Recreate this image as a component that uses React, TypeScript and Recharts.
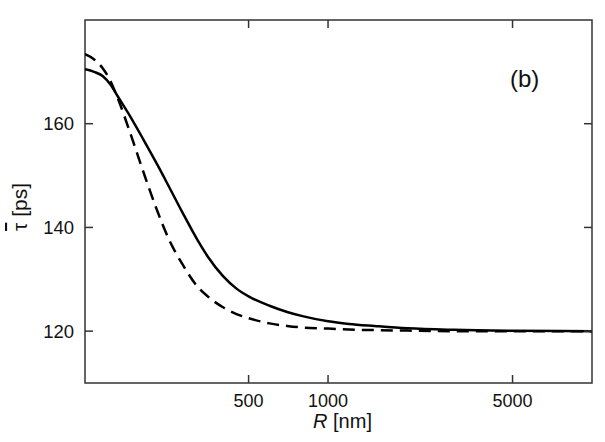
import { LineChart, Line, XAxis, YAxis, ReferenceArea } from 'recharts';

// R [nm] sample points (log axis)
const rValues = [120, 130, 140, 150, 160, 180, 200, 225, 250, 280, 320, 350, 400, 450, 500, 600, 700, 800, 1000, 1200, 1500, 2000, 3000, 5000, 10000];
// solid curve, tau-bar [ps]
const tauSolid = [170.5, 170.0, 169.2, 167.5, 165.2, 161.0, 156.9, 152.2, 147.8, 143.0, 137.6, 134.4, 130.6, 128.2, 126.7, 124.9, 123.7, 122.9, 121.9, 121.4, 121.0, 120.55, 120.25, 120.08, 120.0];
// dashed curve
const tauDashed = [173.4, 172.4, 170.7, 168.2, 164.8, 157.5, 150.6, 143.3, 137.6, 133.0, 128.6, 126.7, 124.6, 123.3, 122.5, 121.5, 121.0, 120.7, 120.5, 120.3, 120.2, 120.1, 120.0, 120.0, 120.0];

const xTicks = [500, 1000, 5000];
const yTicks = [120, 140, 160];
const xDomain = [120, 10000];
const yDomain = [110, 180];

const data = rValues.map((r, i) => ({ r, solid: tauSolid[i], dashed: tauDashed[i] }));

const font = '"Liberation Sans", Arial, sans-serif';
const axisColor = '#333';
const W = 605;
const H = 442;
const margin = { top: 20, right: 13, bottom: 14, left: 25 };
const yAxisWidth = 60;
const xAxisHeight = 45;
const plotLeft = margin.left + yAxisWidth;
const plotTop = margin.top;
const plotRight = W - margin.right;
const plotBottom = H - margin.bottom - xAxisHeight;
const tickLen = 8;

// bottom tick: label plus inward marks on bottom and top edges
function XTick({ x, payload }: any) {
  return (
    <g>
      <line x1={x} x2={x} y1={plotBottom} y2={plotBottom - tickLen} stroke={axisColor} strokeWidth={1.5} />
      <line x1={x} x2={x} y1={plotTop} y2={plotTop + tickLen} stroke={axisColor} strokeWidth={1.5} />
      <text x={x} y={plotBottom + 24} textAnchor="middle" fontSize={18} fontFamily={font} fill="#111">
        {payload.value}
      </text>
    </g>
  );
}

// left tick: label plus inward marks on left and right edges
function YTick({ y, payload }: any) {
  return (
    <g>
      <line x1={plotLeft} x2={plotLeft + tickLen} y1={y} y2={y} stroke={axisColor} strokeWidth={1.5} />
      <line x1={plotRight} x2={plotRight - tickLen} y1={y} y2={y} stroke={axisColor} strokeWidth={1.5} />
      <text x={plotLeft - 11} y={y} textAnchor="end" dominantBaseline="central" fontSize={18.5} fontFamily={font} fill="#111">
        {payload.value}
      </text>
    </g>
  );
}

function XLabel() {
  return (
    <text x={(plotLeft + plotRight) / 2 + 4} y={plotBottom + 45} textAnchor="middle" fontSize={20} fontFamily={font} fill="#111">
      <tspan fontStyle="italic">R</tspan> [nm]
    </text>
  );
}

function YLabel() {
  const cx = 19;
  const cy = 207;
  return (
    <text
      x={cx}
      y={cy}
      transform={`rotate(-90 ${cx} ${cy})`}
      textAnchor="middle"
      dominantBaseline="central"
      fontSize={21}
      fontFamily={font}
      fill="#111"
    >
      <tspan style={{ textDecoration: 'overline' }}>τ</tspan> [ps]
    </text>
  );
}

export default function App() {
  return (
    <div style={{ position: 'absolute', left: 0, top: 0, width: W, height: H, background: '#fff' }}>
      <LineChart width={W} height={H} data={data} margin={margin}>
        <XAxis
          dataKey="r"
          type="number"
          scale="log"
          domain={xDomain}
          allowDataOverflow
          ticks={xTicks}
          height={xAxisHeight}
          tickLine={false}
          axisLine={false}
          tick={<XTick />}
          label={<XLabel />}
        />
        <YAxis
          type="number"
          domain={yDomain}
          allowDataOverflow
          ticks={yTicks}
          width={yAxisWidth}
          tickLine={false}
          axisLine={false}
          tick={<YTick />}
          label={<YLabel />}
        />
        <ReferenceArea
          x1={xDomain[0]}
          x2={xDomain[1]}
          y1={yDomain[0]}
          y2={yDomain[1]}
          stroke={axisColor}
          strokeWidth={1.5}
          fill="none"
          fillOpacity={0}
          ifOverflow="visible"
        />
        <Line
          type="monotone"
          dataKey="solid"
          stroke="#000"
          strokeWidth={2.5}
          dot={false}
          isAnimationActive={false}
        />
        <Line
          type="monotone"
          dataKey="dashed"
          stroke="#000"
          strokeWidth={2.5}
          strokeDasharray="12 7"
          dot={false}
          isAnimationActive={false}
        />
      </LineChart>
      <div
        style={{
          position: 'absolute',
          left: 510,
          top: 67,
          fontSize: 24,
          fontFamily: font,
          color: '#111',
          lineHeight: 1,
        }}
      >
        (b)
      </div>
    </div>
  );
}
